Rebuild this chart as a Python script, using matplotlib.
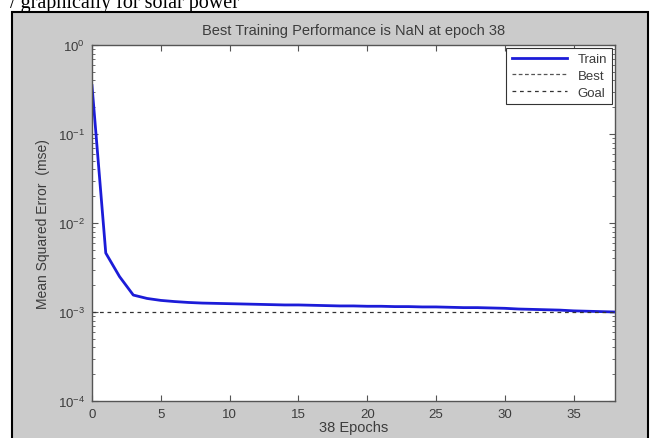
import numpy as np
import matplotlib
matplotlib.use("Agg")
import matplotlib.pyplot as plt
from matplotlib.patches import Rectangle

# training record
epochs = list(range(0, 39))
train_mse = [0.35, 0.0046, 0.0025, 0.00155, 0.00142, 0.00135, 0.00131,
             0.00128, 0.00126, 0.00125, 0.00124, 0.00123, 0.00122, 0.00121,
             0.00120, 0.00120, 0.00119, 0.00118, 0.00117, 0.00117, 0.00116,
             0.00116, 0.00115, 0.00115, 0.00114, 0.00114, 0.00113, 0.00112,
             0.00112, 0.00111, 0.00110, 0.00108, 0.00107, 0.00106, 0.00105,
             0.00103, 0.00102, 0.00101, 0.00100]
best_epoch = [np.nan]
best_mse = [np.nan]
goal_mse = 1e-3
x_ticks = [0, 5, 10, 15, 20, 25, 30, 35]
y_ticks = [1e-4, 1e-3, 1e-2, 1e-1, 1e0]

W, H = 650, 439
plt.rcParams["font.family"] = ["Liberation Sans", "DejaVu Sans"]
fig = plt.figure(figsize=(W / 100, H / 100), dpi=100, facecolor="white")

# gray MATLAB figure window with black border (runs off the bottom)
fig.patches.append(Rectangle((12 / W, -0.05), (648 - 12) / W,
                             1.05 - 13 / H, transform=fig.transFigure,
                             facecolor="#cbcbcb", edgecolor="black",
                             linewidth=1.5, zorder=-5))
# cut-off line of the surrounding document
fig.text(10 / W, 1 - 8 / H, "/ graphically for solar power",
         family="Liberation Serif", fontsize=14.5, color="black",
         ha="left", va="baseline")

ax = fig.add_axes([92 / W, 1 - 402 / H, 523 / W, 356 / H])
ax.set_facecolor("white")
txt = "#3c3c3c"

ax.semilogy(epochs, train_mse, color="#1c1cd8", lw=2.0, label="Train")
ax.plot(best_epoch, best_mse, color="#555555", lw=0.9, ls=(0, (3, 2)),
        label="Best")
ax.axhline(goal_mse, color="#333333", lw=0.9, ls=(0, (3, 3)),
           label="Goal")

ax.set_xlim(0, 38)
ax.set_ylim(1e-4, 1e0)
ax.set_xticks(x_ticks)
ax.set_yticks(y_ticks)
ax.tick_params(which="both", direction="in", top=True, right=True,
               colors="#555555", labelcolor=txt, labelsize=9.5)
ax.tick_params(which="major", length=4, pad=5)
ax.tick_params(which="minor", length=2)
for s in ax.spines.values():
    s.set_color("#555555")
    s.set_linewidth(1.0)

ax.set_title("Best Training Performance is NaN at epoch 38",
             fontsize=10.5, color=txt, pad=8)
ax.set_xlabel("38 Epochs", fontsize=10.5, color=txt, labelpad=0)
ax.set_ylabel("Mean Squared Error  (mse)", fontsize=10, color=txt,
              labelpad=6)

leg = ax.legend(loc="upper right", fontsize=9.5, fancybox=False,
                framealpha=1, edgecolor="#333333", handlelength=4.2,
                borderaxespad=0.2, labelspacing=0.35, borderpad=0.4)
leg.get_frame().set_linewidth(0.8)
for t in leg.get_texts():
    t.set_color(txt)

fig.savefig("out.png", dpi=100, facecolor="white")
